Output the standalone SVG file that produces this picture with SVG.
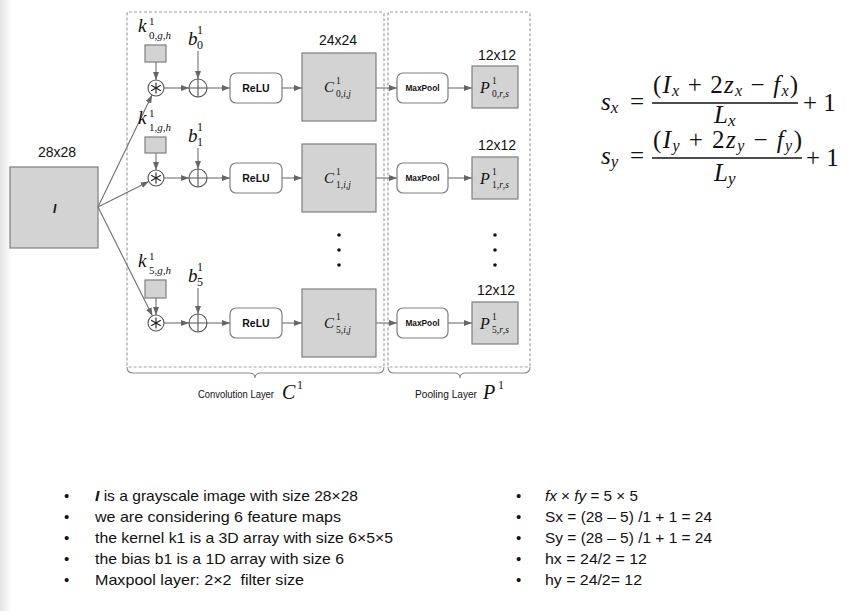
<svg xmlns="http://www.w3.org/2000/svg" width="847" height="611" viewBox="0 0 847 611">
<style>
.box{fill:#d3d3d3;stroke:#7f7f7f;stroke-width:1.2}
.rbox{fill:#fff;stroke:#7f7f7f;stroke-width:1.2}
.ln{stroke:#707070;stroke-width:1.1;fill:none}
.dash{fill:none;stroke:#a0a0a0;stroke-width:1.2;stroke-dasharray:3,2}
.brace{fill:none;stroke:#8a8a8a;stroke-width:1.1}
.sans{font-family:"Liberation Sans",Arial,sans-serif;fill:#111}
.math{font-family:"Liberation Serif","DejaVu Serif",serif;font-style:italic;fill:#111}
.bul{font-family:"Liberation Sans",Arial,sans-serif;font-size:15px;fill:#111}
.fm{font-family:"Liberation Serif","DejaVu Serif",serif;fill:#111}
.i{font-style:italic}
</style>
<defs>
<marker id="ah" markerWidth="8" markerHeight="6" refX="8" refY="3" orient="auto" markerUnits="userSpaceOnUse">
<path d="M0,0 L8,3 L0,6 z" fill="#666"/>
</marker>
<linearGradient id="edge" x1="0" x2="1" y1="0" y2="0">
<stop offset="0" stop-color="#e4e4e4"/><stop offset="1" stop-color="#ffffff"/>
</linearGradient>
<g id="conv-sym">
<circle r="8" fill="#fff" stroke="#555" stroke-width="1.1"/>
<path d="M0,-5.5 L0,5.5 M-4.8,-2.75 L4.8,2.75 M-4.8,2.75 L4.8,-2.75" stroke="#222" stroke-width="1.1"/>
</g>
<g id="plus-sym">
<circle r="9" fill="#fff" stroke="#555" stroke-width="1.1"/>
<path d="M0,-9 L0,9 M-9,0 L9,0" stroke="#555" stroke-width="1.1"/>
</g>
</defs>
<rect x="0" y="0" width="847" height="611" fill="#fff"/>
<rect x="0" y="0" width="12" height="611" fill="url(#edge)"/>

<g id="conv-layer">
<rect class="dash" x="127" y="12" width="257" height="355" rx="2"/>
<path class="brace" d="M127,367 Q127,373 133,373 L249,373 Q255,373 255,378 Q255,373 261,373 L378,373 Q384,373 384,367"/>
<text class="sans" x="198" y="398" font-size="10.5" textLength="76" lengthAdjust="spacingAndGlyphs">Convolution Layer</text>
<text class="math" x="282" y="399" font-size="20">C</text>
<text class="fm" x="297" y="389" font-size="12">1</text>
</g>
<g id="pool-layer">
<rect class="dash" x="388" y="12" width="142" height="355" rx="2"/>
<path class="brace" d="M388,367 Q388,373 394,373 L454,373 Q460,373 460,378 Q460,373 466,373 L524,373 Q530,373 530,367"/>
<text class="sans" x="415" y="398" font-size="10.5" textLength="62" lengthAdjust="spacingAndGlyphs">Pooling Layer</text>
<text class="math" x="483" y="399" font-size="20">P</text>
<text class="fm" x="498" y="389" font-size="12">1</text>
</g>

<g id="input-I">
<rect class="box" x="10" y="167" width="88" height="81"/>
<text class="sans" x="57" y="157" font-size="14" text-anchor="middle">28x28</text>
<text class="sans" x="53" y="213" font-size="12" font-style="italic" font-weight="bold">I</text>
</g>

<g id="connectors" class="ln" marker-end="url(#ah)">
<line x1="98" y1="207" x2="152" y2="95"/>
<line x1="98" y1="207" x2="148.8" y2="181.6"/>
<line x1="98" y1="207" x2="152.4" y2="315.8"/>
<line x1="156" y1="62" x2="156" y2="80"/>
<line x1="198" y1="51" x2="198" y2="79"/>
<line x1="164" y1="88" x2="189" y2="88"/>
<line x1="207" y1="88" x2="230" y2="88"/>
<line x1="282" y1="88" x2="302" y2="88"/>
<line x1="376" y1="88" x2="397" y2="88"/>
<line x1="448" y1="88" x2="472" y2="88"/>
<line x1="156" y1="153" x2="156" y2="170"/>
<line x1="198" y1="148" x2="198" y2="169"/>
<line x1="164" y1="178" x2="189" y2="178"/>
<line x1="207" y1="178" x2="230" y2="178"/>
<line x1="282" y1="178" x2="302" y2="178"/>
<line x1="376" y1="178" x2="397" y2="178"/>
<line x1="448" y1="178" x2="472" y2="178"/>
<line x1="156" y1="298" x2="156" y2="315"/>
<line x1="198" y1="288" x2="198" y2="314"/>
<line x1="164" y1="323" x2="189" y2="323"/>
<line x1="207" y1="323" x2="230" y2="323"/>
<line x1="282" y1="323" x2="302" y2="323"/>
<line x1="376" y1="323" x2="397" y2="323"/>
<line x1="448" y1="323" x2="472" y2="323"/>
</g>

<!-- row 0 -->
<g id="kernel-0">
<rect class="box" x="145" y="45" width="21" height="17"/>
<text class="math" x="138" y="32" font-size="19">k</text>
<text class="fm" x="149" y="25" font-size="11">1</text>
<text class="fm" x="149" y="39" font-size="11">0,<tspan class="i">g</tspan>,<tspan class="i">h</tspan></text>
</g>
<g id="bias-0">
<text class="math" x="188" y="45" font-size="19">b</text>
<text class="fm" x="197" y="34" font-size="12">1</text>
<text class="fm" x="197" y="49" font-size="12">0</text>
</g>
<use id="conv-0" href="#conv-sym" x="156" y="88"/>
<use id="plus-0" href="#plus-sym" x="198" y="88"/>
<g id="relu-0"><rect class="rbox" x="230" y="73" width="52" height="30" rx="6"/><text class="sans" x="256" y="92" font-size="10.5" font-weight="bold" text-anchor="middle">ReLU</text></g>
<g id="C-0">
<rect class="box" x="302" y="53" width="74" height="68"/>
<text class="sans" x="338" y="45" font-size="14" text-anchor="middle">24x24</text>
<text class="math" x="324" y="92" font-size="15">C</text>
<text class="fm" x="336" y="84" font-size="9.5">1</text>
<text class="fm" x="336" y="97" font-size="9.5">0,<tspan class="i">i</tspan>,<tspan class="i">j</tspan></text>
</g>
<g id="maxpool-0"><rect class="rbox" x="397" y="73" width="51" height="30" rx="6"/><text class="sans" x="422.5" y="91" font-size="8.3" font-weight="bold" text-anchor="middle">MaxPool</text></g>
<g id="P-0">
<rect class="box" x="472" y="66" width="46" height="42"/>
<text class="sans" x="497" y="60" font-size="14" text-anchor="middle">12x12</text>
<text class="math" x="480" y="93" font-size="16">P</text>
<text class="fm" x="492" y="84" font-size="9.5">1</text>
<text class="fm" x="492" y="97" font-size="9.5">0,<tspan class="i">r</tspan>,<tspan class="i">s</tspan></text>
</g>

<!-- row 1 -->
<g id="kernel-1">
<rect class="box" x="145" y="137" width="21" height="16"/>
<text class="math" x="138" y="124" font-size="19">k</text>
<text class="fm" x="149" y="117" font-size="11">1</text>
<text class="fm" x="149" y="131" font-size="11">1,<tspan class="i">g</tspan>,<tspan class="i">h</tspan></text>
</g>
<g id="bias-1">
<text class="math" x="188" y="142" font-size="19">b</text>
<text class="fm" x="197" y="131" font-size="12">1</text>
<text class="fm" x="197" y="146" font-size="12">1</text>
</g>
<use id="conv-1" href="#conv-sym" x="156" y="178"/>
<use id="plus-1" href="#plus-sym" x="198" y="178"/>
<g id="relu-1"><rect class="rbox" x="230" y="163" width="52" height="30" rx="6"/><text class="sans" x="256" y="182" font-size="10.5" font-weight="bold" text-anchor="middle">ReLU</text></g>
<g id="C-1">
<rect class="box" x="302" y="144" width="74" height="68"/>
<text class="math" x="324" y="183" font-size="15">C</text>
<text class="fm" x="336" y="175" font-size="9.5">1</text>
<text class="fm" x="336" y="188" font-size="9.5">1,<tspan class="i">i</tspan>,<tspan class="i">j</tspan></text>
</g>
<g id="maxpool-1"><rect class="rbox" x="397" y="163" width="51" height="30" rx="6"/><text class="sans" x="422.5" y="181" font-size="8.3" font-weight="bold" text-anchor="middle">MaxPool</text></g>
<g id="P-1">
<rect class="box" x="472" y="157" width="46" height="42"/>
<text class="sans" x="497" y="150" font-size="14" text-anchor="middle">12x12</text>
<text class="math" x="480" y="184" font-size="16">P</text>
<text class="fm" x="492" y="175" font-size="9.5">1</text>
<text class="fm" x="492" y="188" font-size="9.5">1,<tspan class="i">r</tspan>,<tspan class="i">s</tspan></text>
</g>

<g id="dots" fill="#111">
<circle cx="339" cy="235" r="1.8"/><circle cx="339" cy="250" r="1.8"/><circle cx="339" cy="265" r="1.8"/>
<circle cx="495" cy="235" r="1.8"/><circle cx="495" cy="250" r="1.8"/><circle cx="495" cy="265" r="1.8"/>
</g>

<!-- row 5 -->
<g id="kernel-5">
<rect class="box" x="145" y="280" width="21" height="18"/>
<text class="math" x="138" y="267" font-size="19">k</text>
<text class="fm" x="149" y="260" font-size="11">1</text>
<text class="fm" x="149" y="274" font-size="11">5,<tspan class="i">g</tspan>,<tspan class="i">h</tspan></text>
</g>
<g id="bias-5">
<text class="math" x="188" y="282" font-size="19">b</text>
<text class="fm" x="197" y="271" font-size="12">1</text>
<text class="fm" x="197" y="286" font-size="12">5</text>
</g>
<use id="conv-5" href="#conv-sym" x="156" y="323"/>
<use id="plus-5" href="#plus-sym" x="198" y="323"/>
<g id="relu-5"><rect class="rbox" x="230" y="308" width="52" height="30" rx="6"/><text class="sans" x="256" y="327" font-size="10.5" font-weight="bold" text-anchor="middle">ReLU</text></g>
<g id="C-5">
<rect class="box" x="302" y="289" width="74" height="68"/>
<text class="math" x="324" y="328" font-size="15">C</text>
<text class="fm" x="336" y="320" font-size="9.5">1</text>
<text class="fm" x="336" y="333" font-size="9.5">5,<tspan class="i">i</tspan>,<tspan class="i">j</tspan></text>
</g>
<g id="maxpool-5"><rect class="rbox" x="397" y="308" width="51" height="30" rx="6"/><text class="sans" x="422.5" y="326" font-size="8.3" font-weight="bold" text-anchor="middle">MaxPool</text></g>
<g id="P-5">
<rect class="box" x="472" y="302" width="46" height="42"/>
<text class="sans" x="496" y="295" font-size="14" text-anchor="middle">12x12</text>
<text class="math" x="480" y="329" font-size="16">P</text>
<text class="fm" x="492" y="320" font-size="9.5">1</text>
<text class="fm" x="492" y="333" font-size="9.5">5,<tspan class="i">r</tspan>,<tspan class="i">s</tspan></text>
</g>

<!-- formulas -->
<g id="formula-sx" class="fm" font-size="25">
<text x="601" y="110"><tspan class="i">s</tspan><tspan class="i" font-size="17" dy="3">x</tspan></text>
<text x="630" y="110">=</text>
<text x="653" y="93" textLength="145" lengthAdjust="spacing">(<tspan class="i">I</tspan><tspan class="i" font-size="16" dy="3">x</tspan><tspan dy="-3"> + 2</tspan><tspan class="i">z</tspan><tspan class="i" font-size="16" dy="3">x</tspan><tspan dy="-3"> − </tspan><tspan class="i">f</tspan><tspan class="i" font-size="16" dy="3">x</tspan><tspan dy="-3">)</tspan></text>
<line x1="652" y1="103" x2="798" y2="103" stroke="#111" stroke-width="1.3"/>
<text x="714" y="123"><tspan class="i">L</tspan><tspan class="i" font-size="17" dy="3">x</tspan></text>
<text x="803" y="111">+ 1</text>
</g>
<g id="formula-sy" class="fm" font-size="25">
<text x="601" y="164"><tspan class="i">s</tspan><tspan class="i" font-size="17" dy="3">y</tspan></text>
<text x="630" y="164">=</text>
<text x="653" y="148" textLength="149" lengthAdjust="spacing">(<tspan class="i">I</tspan><tspan class="i" font-size="16" dy="3">y</tspan><tspan dy="-3"> + 2</tspan><tspan class="i">z</tspan><tspan class="i" font-size="16" dy="3">y</tspan><tspan dy="-3"> − </tspan><tspan class="i">f</tspan><tspan class="i" font-size="16" dy="3">y</tspan><tspan dy="-3">)</tspan></text>
<line x1="652" y1="158" x2="802" y2="158" stroke="#111" stroke-width="1.3"/>
<text x="714" y="181"><tspan class="i">L</tspan><tspan class="i" font-size="17" dy="3">y</tspan></text>
<text x="806" y="166">+ 1</text>
</g>

<g id="notes-left" class="bul">
<text x="64" y="501">•</text><text x="95" y="501" textLength="263" lengthAdjust="spacingAndGlyphs"><tspan font-weight="bold" font-style="italic">I</tspan> is a grayscale image with size 28×28</text>
<text x="64" y="522">•</text><text x="95" y="522" textLength="246" lengthAdjust="spacingAndGlyphs">we are considering 6 feature maps</text>
<text x="64" y="543">•</text><text x="95" y="543" textLength="298" lengthAdjust="spacingAndGlyphs">the kernel k1 is a 3D array with size 6×5×5</text>
<text x="64" y="564">•</text><text x="95" y="564" textLength="249" lengthAdjust="spacingAndGlyphs">the bias b1 is a 1D array with size 6</text>
<text x="64" y="585">•</text><text x="95" y="585" textLength="209" lengthAdjust="spacingAndGlyphs">Maxpool layer: 2×2&#160; filter size</text>
</g>
<g id="notes-right" class="bul">
<text x="516" y="501">•</text><text x="545" y="501" textLength="93" lengthAdjust="spacingAndGlyphs"><tspan class="i">fx</tspan> × <tspan class="i">fy</tspan> = 5 × 5</text>
<text x="516" y="522">•</text><text x="545" y="522" textLength="167" lengthAdjust="spacingAndGlyphs">Sx = (28 – 5) /1 + 1 = 24</text>
<text x="516" y="543">•</text><text x="545" y="543" textLength="167" lengthAdjust="spacingAndGlyphs">Sy = (28 – 5) /1 + 1 = 24</text>
<text x="516" y="564">•</text><text x="545" y="564" textLength="102" lengthAdjust="spacingAndGlyphs">hx = 24/2 = 12</text>
<text x="516" y="585">•</text><text x="545" y="585" textLength="97" lengthAdjust="spacingAndGlyphs">hy = 24/2= 12</text>
</g>
</svg>
